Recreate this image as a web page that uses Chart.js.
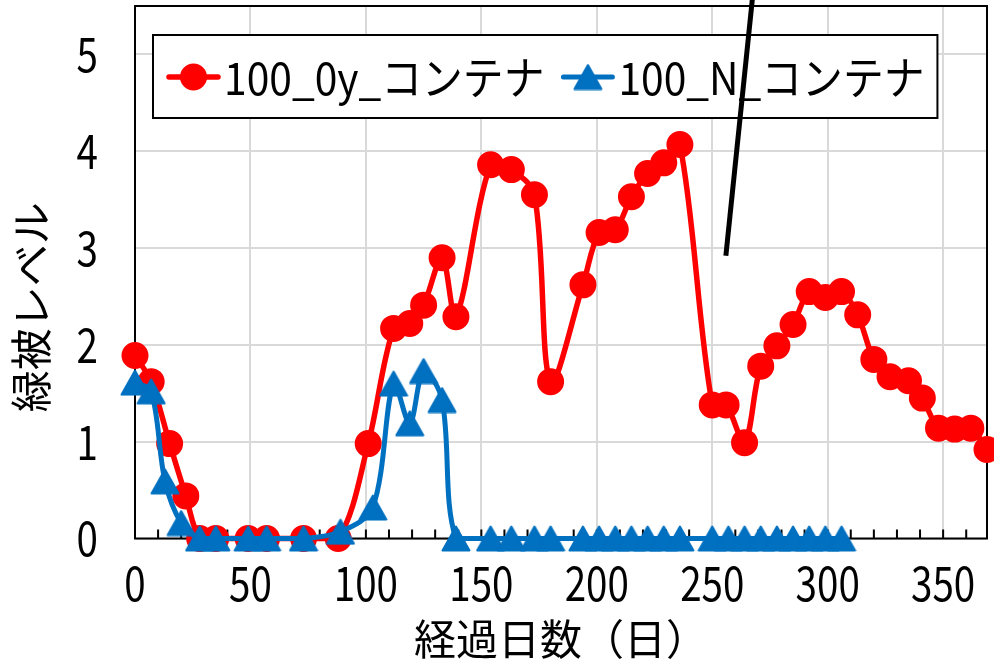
<!DOCTYPE html>
<html><head><meta charset="utf-8">
<script src="https://cdn.jsdelivr.net/npm/chart.js@4/dist/chart.umd.min.js"></script>
<style>html,body{margin:0;padding:0;background:#fff}#wrap{width:994px;height:666px}</style>
</head><body><div id="wrap"><canvas id="c" width="994" height="666"></canvas></div>
<script>
// ---- data ----
const seriesNames = ['100_0y_コンテナ', '100_N_コンテナ'];
const days0y = [0,7,15,22,28,35,49,57,73,88,101,112,119,125,133,139,154,163,173,180,194,201,208,215,222,229,236,250,256,264,271,278,285,292,299,306,313,320,327,335,341,348,355,362,369];
const level0y = [1.89,1.62,0.98,0.44,0,0,0,0,0,0,0.98,2.17,2.22,2.41,2.90,2.29,3.86,3.81,3.55,1.62,2.62,3.16,3.19,3.53,3.77,3.88,4.07,1.38,1.38,0.99,1.78,1.99,2.21,2.55,2.49,2.55,2.31,1.85,1.67,1.63,1.45,1.14,1.13,1.14,0.92];
const daysN = [0,7,13,20,28,35,49,57,73,89,103,112,119,125,133,139,154,163,173,180,194,201,208,215,222,229,236,250,257,264,271,278,285,292,299,306];
const levelN = [1.61,1.52,0.59,0.16,0,0,0,0,0,0.07,0.32,1.60,1.19,1.73,1.43,0,0,0,0,0,0,0,0,0,0,0,0,0,0,0,0,0,0,0,0,0];
const xTickValues = [0,50,100,150,200,250,300,350];
const yTickValues = [0,1,2,3,4,5];
const xMinorStep = 10;
const xRange = [0, 369];
const yRange = [0, 5.5];
const xTitle = '経過日数（日）';
const yTitle = '緑被レベル';
// hand-drawn stroke over the chart, in data units
const strokeX = [267.5, 255.9];
const strokeY = [5.6, 2.92];

const RED = '#ff0000', BLUE = '#0070c0';
const NUM_FONT = "'Noto Sans CJK JP', sans-serif";
const JP_FONT = "'Noto Sans CJK JP', sans-serif";
const CONDENSE = 0.82;

function toPts(xs, ys){ return xs.map((x,i)=>({x:x, y:ys[i]})); }

// triangle marker centred on its bounding box (as the spreadsheet marker is)
function triangleMarker(color){
  const c = document.createElement('canvas');
  c.width = 30; c.height = 27;
  const g = c.getContext('2d');
  g.fillStyle = color; g.strokeStyle = color; g.lineWidth = 2; g.lineJoin = 'round';
  g.beginPath(); g.moveTo(15, 1.5); g.lineTo(28.5, 25.5); g.lineTo(1.5, 25.5); g.closePath();
  g.fill(); g.stroke();
  return c;
}
const triMark = triangleMarker(BLUE);

// draw the tick labels with a narrower face, like the reference's condensed digits
function condenseLabels(scale, k){
  if (scale._condensed) return;
  scale._condensed = true;
  const orig = scale.drawLabels;
  scale.drawLabels = function(area){
    const ctx = this.ctx;
    const ft = CanvasRenderingContext2D.prototype.fillText;
    ctx.fillText = function(t, x, y){ this.save(); this.translate(x, y); this.scale(k, 1); ft.call(this, t, 0, 0); this.restore(); };
    try { orig.call(this, area); } finally { delete ctx.fillText; }
  };
}

const framePlugin = {
  id:'frame',
  beforeDatasetsDraw(chart){
    const {ctx, chartArea:a, scales} = chart;
    ctx.save();
    ctx.strokeStyle = '#000'; ctx.lineWidth = 2;
    ctx.strokeRect(a.left, a.top, a.right-a.left, a.bottom-a.top);
    ctx.beginPath();
    for (let v = xRange[0]+xMinorStep; v < xRange[1]; v += xMinorStep){
      const px = scales.x.getPixelForValue(v);
      ctx.moveTo(px, a.bottom); ctx.lineTo(px, a.bottom-9);
    }
    ctx.stroke();
    // y-axis title
    ctx.fillStyle = '#000';
    ctx.font = '42px ' + JP_FONT;
    ctx.translate(a.left-104, (a.top+a.bottom)/2 + 35);
    ctx.rotate(-Math.PI/2);
    ctx.textAlign='center'; ctx.textBaseline='middle';
    ctx.fillText(yTitle, 0, 0);
    ctx.restore();
  }
};

const legendPlugin = {
  id:'boxLegend',
  afterDatasetsDraw(chart){
    const {ctx, chartArea:a} = chart;
    const ds = chart.data.datasets;
    ctx.save();
    ctx.font = '45px ' + NUM_FONT;
    const left = a.left + 18, top = a.top + 29, h = 83;
    const lineLen = 53, gapText = 4, gapItem = 17, padL = 14, padR = 13;
    const widths = ds.map(d=>ctx.measureText(d.label).width * 0.906);
    let w = padL + padR;
    widths.forEach((tw,i)=>{ w += lineLen + gapText + tw + (i<widths.length-1?gapItem:0); });
    ctx.fillStyle='#fff'; ctx.fillRect(left, top, w, h);
    ctx.strokeStyle='#000'; ctx.lineWidth=2; ctx.strokeRect(left, top, w, h);
    const cy = top + 42;
    let x = left + padL;
    ds.forEach((d,i)=>{
      ctx.strokeStyle = d.borderColor; ctx.lineWidth = d.borderWidth; ctx.lineCap='round';
      ctx.beginPath(); ctx.moveTo(x+2, cy); ctx.lineTo(x+lineLen-2, cy); ctx.stroke();
      ctx.fillStyle = d.pointBackgroundColor; ctx.strokeStyle = d.pointBorderColor; ctx.lineWidth = d.pointBorderWidth;
      Chart.helpers.drawPoint(ctx, {pointStyle:d.pointStyle, radius:d.pointRadius, rotation:0, borderWidth:d.pointBorderWidth}, x+lineLen/2, cy);
      ctx.fillStyle='#000'; ctx.textAlign='left'; ctx.textBaseline='middle';
      ctx.fillText(d.label, x+lineLen+gapText, cy+1, widths[i]);
      x += lineLen + gapText + widths[i] + gapItem;
    });
    ctx.restore();
  },
  afterDraw(chart){
    const {ctx, scales} = chart;
    ctx.save();
    ctx.strokeStyle='#000'; ctx.lineWidth=5; ctx.lineCap='butt';
    ctx.beginPath();
    ctx.moveTo(scales.x.getPixelForValue(strokeX[0]), scales.y.getPixelForValue(strokeY[0]));
    ctx.lineTo(scales.x.getPixelForValue(strokeX[1]), scales.y.getPixelForValue(strokeY[1]));
    ctx.stroke();
    ctx.restore();
  }
};

new Chart(document.getElementById('c'), {
  type:'line',
  data:{
    datasets:[
      {label:seriesNames[0], data:toPts(days0y, level0y), borderColor:RED, backgroundColor:RED,
       borderWidth:5.5, pointStyle:'circle', pointRadius:12.5, pointBorderWidth:2,
       pointBackgroundColor:RED, pointBorderColor:RED, tension:0.33, clip:false, order:2},
      {label:seriesNames[1], data:toPts(daysN, levelN), borderColor:BLUE, backgroundColor:BLUE,
       borderWidth:5, pointStyle:triMark, pointRadius:14, pointBorderWidth:0,
       pointBackgroundColor:BLUE, pointBorderColor:BLUE, tension:0.33, clip:false, order:1}
    ]
  },
  options:{
    responsive:false, animation:false, devicePixelRatio:1,
    layout:{autoPadding:false, padding:{top:6, right:7, left:0, bottom:0}},
    plugins:{legend:{display:false}, tooltip:{enabled:false}},
    scales:{
      x:{type:'linear', position:'bottom', min:xRange[0], max:xRange[1],
         ticks:{stepSize:50, autoSkip:false, maxRotation:0, color:'#000', padding:16, font:{family:NUM_FONT, size:47}},
         afterBuildTicks(s){ s.ticks = xTickValues.map(v=>({value:v})); },
         afterFit(s){ s.height = 127.5; s.paddingLeft = 0; s.paddingRight = 0; condenseLabels(s, CONDENSE); },
         grid:{color:'#d9d9d9', lineWidth:2, drawTicks:false},
         border:{display:false},
         title:{display:true, text:xTitle, color:'#000', font:{family:JP_FONT, size:42}, padding:{top:0, bottom:2}}
      },
      y:{type:'linear', min:yRange[0], max:yRange[1],
         ticks:{stepSize:1, color:'#000', padding:37, font:{family:NUM_FONT, size:47}},
         afterBuildTicks(s){ s.ticks = yTickValues.map(v=>({value:v})); },
         afterFit(s){ s.width = 135; s.paddingTop = 0; s.paddingBottom = 0; condenseLabels(s, CONDENSE); },
         grid:{color:'#d9d9d9', lineWidth:2, drawTicks:false},
         border:{display:false}
      }
    }
  },
  plugins:[framePlugin, legendPlugin]
});
</script></body></html>
